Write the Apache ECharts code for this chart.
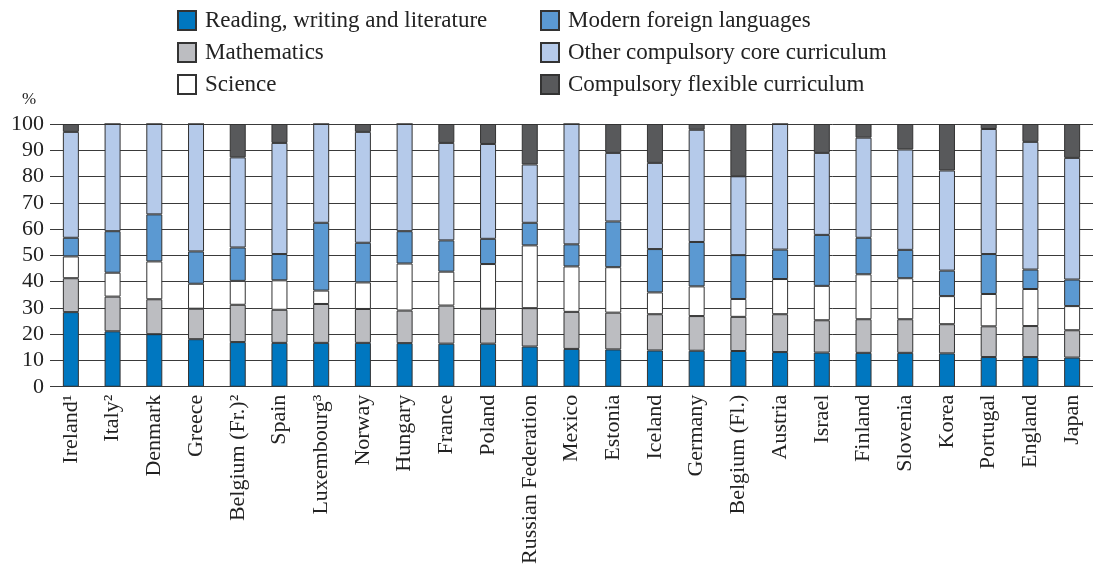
<!DOCTYPE html>
<html>
<head>
<meta charset="utf-8">
<script src="https://cdn.jsdelivr.net/npm/echarts@6/dist/echarts.min.js"></script>
<style>
  html, body { margin: 0; padding: 0; background: #fff; }
  #chart { width: 1093px; height: 567px; }
</style>
</head>
<body>
<div id="chart"></div>
<script>
const categories = ["Ireland¹", "Italy²", "Denmark", "Greece", "Belgium (Fr.)²", "Spain", "Luxembourg³", "Norway", "Hungary", "France", "Poland", "Russian Federation", "Mexico", "Estonia", "Iceland", "Germany", "Belgium (Fl.)", "Austria", "Israel", "Finland", "Slovenia", "Korea", "Portugal", "England", "Japan"];

const reading   = [28.4, 21.1, 20.0, 18.1, 17.0, 16.7, 16.7, 16.7, 16.6, 16.4, 16.4, 15.3, 14.4, 14.2, 13.8, 13.7, 13.6, 13.2, 13.0, 12.9, 12.9, 12.7, 11.3, 11.3, 11.1];
const maths     = [12.9, 13.2, 13.3, 11.6, 14.2, 12.6, 14.8, 12.9, 12.4, 14.5, 13.3, 14.6, 14.1, 14.0, 13.8, 13.2, 13.0, 14.4, 12.3, 12.8, 12.8, 11.1, 11.7, 11.8, 10.4];
const science   = [8.3, 9.1, 14.4, 9.5, 9.1, 11.2, 5.1, 10.1, 17.9, 12.9, 17.0, 23.9, 17.3, 17.3, 8.3, 11.3, 6.8, 13.4, 13.1, 17.1, 15.6, 10.7, 12.3, 14.1, 9.2];
const foreign   = [7.1, 15.8, 17.9, 12.3, 12.7, 10.0, 25.8, 15.1, 12.3, 11.9, 9.6, 8.6, 8.4, 17.4, 16.5, 16.9, 16.7, 11.2, 19.4, 13.9, 10.8, 9.7, 15.2, 7.4, 10.1];
const otherCore = [40.3, 40.8, 34.4, 48.5, 34.3, 42.3, 37.6, 42.2, 40.8, 37.1, 36.1, 22.2, 45.8, 26.1, 32.8, 42.7, 30.0, 47.8, 31.2, 38.1, 38.2, 38.1, 47.6, 48.6, 46.3];
const flexible  = [3.0, 0, 0, 0, 12.7, 7.2, 0, 3.0, 0, 7.2, 7.6, 15.4, 0, 11.0, 14.8, 2.2, 19.9, 0, 11.0, 5.2, 9.7, 17.7, 1.9, 6.8, 12.9];

const yTicks = [0, 10, 20, 30, 40, 50, 60, 70, 80, 90, 100];

const seriesDefs = [
  { name: "Reading, writing and literature", data: reading,   color: "#0077c0" },
  { name: "Mathematics",                     data: maths,     color: "#bcbdc1" },
  { name: "Science",                         data: science,   color: "#ffffff" },
  { name: "Modern foreign languages",        data: foreign,   color: "#5b99d2" },
  { name: "Other compulsory core curriculum", data: otherCore, color: "#b5caea" },
  { name: "Compulsory flexible curriculum",  data: flexible,  color: "#58595b" }
];

const FONT = "'Liberation Serif', 'DejaVu Serif', serif";

const chart = echarts.init(document.getElementById('chart'), null, { renderer: 'canvas' });

const legendCommon = {
  orient: 'vertical',
  itemWidth: 18,
  itemHeight: 19,
  itemGap: 9,
  icon: 'rect',
  selectedMode: false,
  textStyle: { fontFamily: FONT, fontSize: 23, color: '#222', padding: [0, 0, 0, 4] }
};

chart.setOption({
  animation: false,
  backgroundColor: '#fff',
  title: {
    text: '%',
    left: 17,
    top: 86,
    textStyle: { fontFamily: FONT, fontSize: 17, fontWeight: 'normal', color: '#222' }
  },
  legend: [
    Object.assign({}, legendCommon, { left: 172, top: 4, data: seriesDefs.slice(0, 3).map(s => s.name) }),
    Object.assign({}, legendCommon, { left: 535, top: 4, data: seriesDefs.slice(3).map(s => s.name) })
  ],
  grid: { left: 50, right: -7, top: 124, bottom: 179, containLabel: false },
  xAxis: {
    type: 'category',
    data: categories,
    axisLine: { show: false },
    axisTick: { show: false },
    axisLabel: {
      rotate: 90,
      interval: 0,
      margin: 8,
      fontFamily: FONT,
      fontSize: 22,
      color: '#222'
    }
  },
  yAxis: {
    type: 'value',
    min: yTicks[0],
    max: yTicks[yTicks.length - 1],
    interval: 10,
    axisLine: { show: false },
    axisTick: { show: false },
    axisLabel: { fontFamily: FONT, fontSize: 22, color: '#222', margin: 6 },
    splitLine: { show: true, lineStyle: { color: '#3a3a3a', width: 1 } }
  },
  series: seriesDefs.map(s => ({
    name: s.name,
    type: 'bar',
    stack: 'total',
    data: s.data,
    barWidth: 16,
    itemStyle: { color: s.color, borderColor: '#333', borderWidth: 1 },
    emphasis: { disabled: true }
  }))
});
</script>
</body>
</html>
